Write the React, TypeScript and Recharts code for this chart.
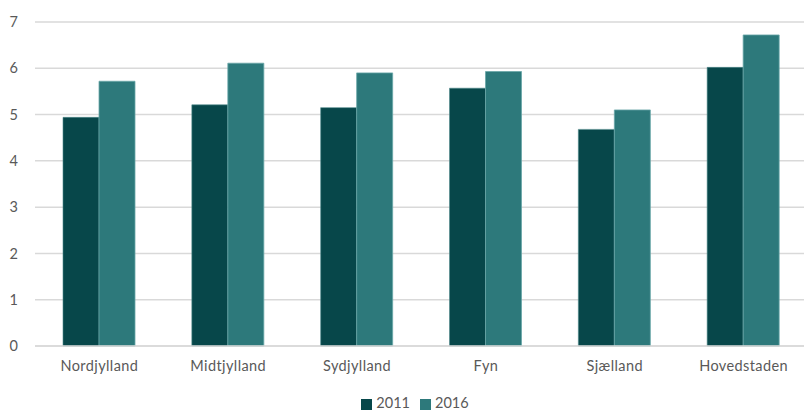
import React from "react";
import { BarChart, Bar, XAxis, YAxis, CartesianGrid, Legend } from "recharts";

const regions = ["Nordjylland", "Midtjylland", "Sydjylland", "Fyn", "Sjælland", "Hovedstaden"];
const values2011 = [4.94, 5.21, 5.15, 5.57, 4.68, 6.02];
const values2016 = [5.72, 6.11, 5.90, 5.93, 5.10, 6.72];
const yTicks = [0, 1, 2, 3, 4, 5, 6, 7];

const data = regions.map((r, i) => ({ region: r, y2011: values2011[i], y2016: values2016[i] }));

const font = "Lato, 'Open Sans', sans-serif";

export default function App() {
  return (
    <div style={{ position: "absolute", left: 0, top: 0, width: 804, height: 410, overflow: "hidden", background: "#fff" }}>
      <BarChart
        width={820}
        height={410}
        data={data}
        margin={{ top: 22, right: 12, bottom: 17, left: 0 }}
        barCategoryGap={28}
        barGap={0}
      >
        <CartesianGrid vertical={false} stroke="#d9d9d9" strokeWidth={1.5} />
        <XAxis
          dataKey="region"
          tickLine={false}
          axisLine={{ stroke: "#d9d9d9", strokeWidth: 1.5 }}
          tickSize={0}
          tickMargin={15}
          tick={{ fill: "#595959", fontSize: 14.5, fontFamily: font, letterSpacing: 0.4 }}
          interval={0}
        />
        <YAxis
          domain={[0, 7]}
          ticks={yTicks}
          width={35}
          tickLine={false}
          axisLine={false}
          tickSize={0}
          tickMargin={17}
          tick={{ fill: "#595959", fontSize: 14.5, fontFamily: font }}
        />
        <Legend
          iconType="square"
          iconSize={11}
          wrapperStyle={{ left: 340, width: 160, top: 394, fontFamily: font, fontSize: 14.5 }}
          formatter={(v: string) => <span style={{ color: "#595959" }}>{v}</span>}
        />
        <Bar dataKey="y2011" name="2011" fill="#07474A" stroke="#4f8a8b" strokeWidth={0.6} isAnimationActive={false} />
        <Bar dataKey="y2016" name="2016" fill="#2D797B" stroke="#6aa7a8" strokeWidth={0.8} isAnimationActive={false} />
      </BarChart>
    </div>
  );
}
